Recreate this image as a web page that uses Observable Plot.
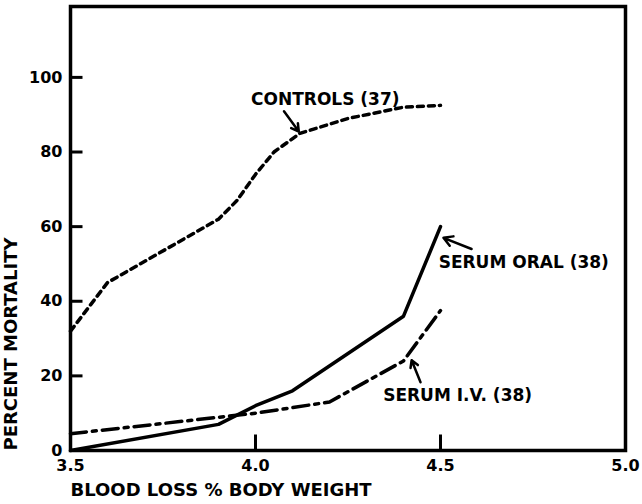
<!DOCTYPE html>
<html>
<head>
<meta charset="utf-8">
<script src="https://cdn.jsdelivr.net/npm/d3@7"></script>
<script src="https://cdn.jsdelivr.net/npm/@observablehq/plot@0.6"></script>
<style>
  html, body { margin: 0; padding: 0; background: #fff; }
</style>
</head>
<body>
<div id="chart"></div>
<script>
// Data
const controlsX = [3.5, 3.6, 3.9, 3.95, 4.0, 4.05, 4.12, 4.25, 4.4, 4.5];
const controlsY = [32, 45, 62, 67, 74, 80, 85, 89, 92, 92.5];
const oralX = [3.5, 3.9, 4.0, 4.1, 4.4, 4.5];
const oralY = [0, 7, 12, 16, 36, 60];
const ivX = [3.5, 4.0, 4.2, 4.4, 4.5];
const ivY = [4.5, 10, 13, 24, 37.5];

const xTicks = [3.5, 4.0, 4.5, 5.0];
const yTicks = [0, 20, 40, 60, 80, 100];
const xDomain = [3.5, 5.0];
const yDomain = [0, 119];
const xLabel = "BLOOD LOSS % BODY WEIGHT";
const yLabel = "PERCENT MORTALITY";

// Annotation labels (text anchor in data units) and their pointer arrows
const labelText = ["CONTROLS (37)", "SERUM ORAL (38)", "SERUM I.V. (38)"];
const labelX = [3.988, 4.495, 4.345];
const labelY = [94, 50.3, 14.8];
const arrowX1 = [4.077, 4.584, 4.446];
const arrowY1 = [90.9, 54, 18.3];
const arrowX2 = [4.117, 4.508, 4.422];
const arrowY2 = [85.5, 57, 24.2];

const toPts = (xs, ys) => xs.map((x, i) => ({x, y: ys[i]}));
const controls = toPts(controlsX, controlsY);
const oral = toPts(oralX, oralY);
const iv = toPts(ivX, ivY);
const labels = labelText.map((t, i) => ({t, x: labelX[i], y: labelY[i]}));
const arrows = arrowX1.map((x1, i) => ({x1, y1: arrowY1[i], x2: arrowX2[i], y2: arrowY2[i]}));

const W = 642, H = 504, mL = 70, mR = 17, mT = 6, mB = 54;
const plotW = W - mL - mR, plotH = H - mT - mB;
// inward tick lengths (pixels) converted to data units through the scale extents
const yTickLen = 12 * (xDomain[1] - xDomain[0]) / plotW;
const xTickLen = 16 * (yDomain[1] - yDomain[0]) / plotH;
const yTickRows = yTicks.filter(d => d > yDomain[0]).map(v => ({v, a: xDomain[0], b: xDomain[0] + yTickLen}));
const xTickRows = xTicks.filter(d => d > xDomain[0] && d < xDomain[1]).map(v => ({v, a: yDomain[0], b: yDomain[0] + xTickLen}));

const chart = Plot.plot({
  width: W,
  height: H,
  marginLeft: mL,
  marginRight: mR,
  marginTop: mT,
  marginBottom: mB,
  style: {fontFamily: "'DejaVu Sans', sans-serif", fontWeight: "bold", fontSize: "16px", color: "#000", background: "#fff"},
  x: {domain: xDomain},
  y: {domain: yDomain},
  marks: [
    Plot.axisX({ticks: xTicks, tickSize: 0, tickPadding: 9, tickFormat: d3.format(".1f"), label: null, fontSize: 16, fontWeight: "bold"}),
    Plot.axisY({ticks: yTicks, tickSize: 0, tickPadding: 8, label: null, fontSize: 16, fontWeight: "bold"}),
    Plot.frame({stroke: "#000", strokeWidth: 3.5}),
    // inward tick marks
    Plot.link(yTickRows, {x1: "a", x2: "b", y1: "v", y2: "v", stroke: "#000", strokeWidth: 3}),
    Plot.link(xTickRows, {x1: "v", x2: "v", y1: "a", y2: "b", stroke: "#000", strokeWidth: 3}),
    Plot.line(controls, {x: "x", y: "y", stroke: "#000", strokeWidth: 3.5, strokeDasharray: "6,5"}),
    Plot.line(oral, {x: "x", y: "y", stroke: "#000", strokeWidth: 3.5}),
    Plot.line(iv, {x: "x", y: "y", stroke: "#000", strokeWidth: 3.5, strokeDasharray: "16,6,4,6"}),
    Plot.arrow(arrows, {x1: "x1", y1: "y1", x2: "x2", y2: "y2", stroke: "#000", strokeWidth: 2.5, headLength: 8}),
    Plot.text(labels, {x: "x", y: "y", text: "t", textAnchor: "start", fontSize: 17, fontWeight: "bold", fill: "#000"}),
    Plot.text([xLabel], {frameAnchor: "bottom-left", text: d => d, textAnchor: "start", dy: 45, fontSize: 18, fontWeight: "bold", fill: "#000"}),
    Plot.text([yLabel], {frameAnchor: "bottom-left", text: d => d, textAnchor: "start", rotate: -90, dx: -54, dy: 0, fontSize: 18, fontWeight: "bold", fill: "#000"})
  ]
});
document.getElementById("chart").appendChild(chart);
</script>
</body>
</html>
